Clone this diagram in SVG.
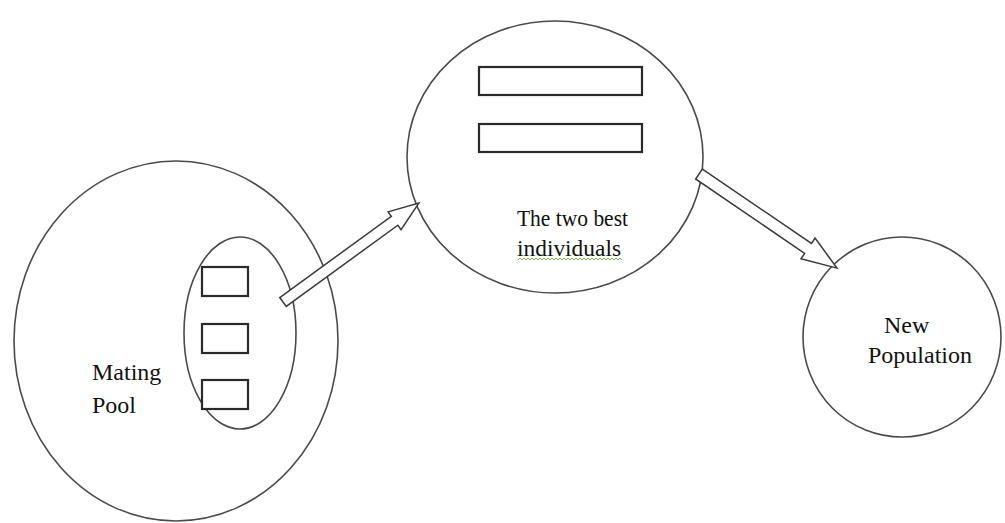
<svg xmlns="http://www.w3.org/2000/svg" width="1005" height="523" viewBox="0 0 1005 523">
  <style>
    .ring { fill: none; stroke: #4a4a4a; stroke-width: 1.6; }
    .box { fill: #ffffff; stroke: #2a2a2a; stroke-width: 2.2; }
    .arrow { fill: #ffffff; stroke: #3a3a3a; stroke-width: 1.5; stroke-linejoin: miter; }
    .label { font-family: "Liberation Serif", "Times New Roman", serif; font-size: 24px; fill: #111111; }
  </style>
  <rect x="0" y="0" width="1005" height="523" fill="#ffffff"/>

  <g id="mating-pool">
    <ellipse class="ring" cx="176" cy="341" rx="162" ry="180"/>
    <ellipse class="ring" cx="240" cy="333" rx="56" ry="96"/>
    <rect class="box" x="202" y="267" width="46" height="29"/>
    <rect class="box" x="202" y="324" width="46" height="29"/>
    <rect class="box" x="202" y="380" width="46" height="29"/>
    <text class="label" x="92" y="380">Mating</text>
    <text class="label" x="92" y="413">Pool</text>
  </g>

  <g id="best-individuals">
    <ellipse class="ring" cx="555" cy="157" rx="148" ry="136"/>
    <rect class="box" x="479" y="67" width="163" height="28"/>
    <rect class="box" x="479" y="124" width="163" height="28"/>
    <text class="label" x="517" y="226" textLength="111" lengthAdjust="spacingAndGlyphs">The two best</text>
    <text class="label" x="517" y="256" textLength="104" lengthAdjust="spacingAndGlyphs">individuals</text>
    <path d="M518 260 l2 -2 l2 2 l2 -2 l2 2 l2 -2 l2 2 l2 -2 l2 2 l2 -2 l2 2 l2 -2 l2 2 l2 -2 l2 2 l2 -2 l2 2 l2 -2 l2 2 l2 -2 l2 2 l2 -2 l2 2 l2 -2 l2 2 l2 -2 l2 2 l2 -2 l2 2 l2 -2 l2 2 l2 -2 l2 2 l2 -2 l2 2 l2 -2 l2 2 l2 -2 l2 2 l2 -2 l2 2 l2 -2 l2 2 l2 -2 l2 2 l2 -2 l2 2 l2 -2 l2 2 l2 -2 l2 2 l2 -2 l2 2" fill="none" stroke="#7cb342" stroke-width="1"/>
  </g>

  <g id="new-population">
    <ellipse class="ring" cx="902" cy="337" rx="99" ry="100"/>
    <text class="label" x="884" y="333">New</text>
    <text class="label" x="868" y="363">Population</text>
  </g>

  <g id="connectors">
    <polygon class="arrow" transform="translate(283,302) rotate(-36.05)" points="0,-5.5 138,-5.5 138,-11 168,0 138,11 138,5.5 0,5.5"/>
    <polygon class="arrow" transform="translate(699,174) rotate(34.3)" points="0,-6 132,-6 132,-12.5 167,0 132,12.5 132,6 0,6"/>
  </g>
</svg>
